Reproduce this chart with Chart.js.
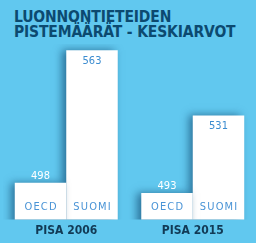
<!DOCTYPE html>
<html>
<head>
<meta charset="utf-8">
<script src="https://cdn.jsdelivr.net/npm/chart.js@4"></script>
<style>
html,body{margin:0;padding:0;background:#61c8ef;}
#wrap{position:relative;width:256px;height:243px;overflow:hidden;}
#otsikko{position:absolute;left:14px;top:10px;font-family:'DejaVu Sans Condensed','Liberation Sans Narrow',sans-serif;font-weight:bold;font-size:15.5px;line-height:14.5px;color:#0c4a70;letter-spacing:-0.15px;white-space:nowrap;}
canvas{position:absolute;left:0;top:0;}
</style>
</head>
<body>
<div id="wrap">
<div id="otsikko">LUONNONTIETEIDEN<br>PISTEMÄÄRÄT - KESKIARVOT</div>
<canvas id="kaavio" width="256" height="243"></canvas>
</div>
<script>
// data
const vuodet=['PISA 2006','PISA 2015'];
const oecd=[498,493];
const suomi=[563,531];
const sarjat=['OECD','SUOMI'];

const fontti="'DejaVu Sans Condensed','Liberation Sans Narrow',sans-serif";

// varjo pylväiden vasemmalle puolelle
const varjo={
  id:'varjo',
  beforeDatasetDraw(chart){ const c=chart.ctx; c.save(); c.shadowColor='rgba(10,60,100,0.6)'; c.shadowBlur=8; c.shadowOffsetX=-4; c.shadowOffsetY=0; },
  afterDatasetDraw(chart){ chart.ctx.restore(); }
};

// arvot ja sarjojen nimet pylväisiin
const tekstit={
  id:'tekstit',
  afterDatasetsDraw(chart){
    const c=chart.ctx; c.save();
    c.textAlign='center'; c.textBaseline='middle';
    chart.data.datasets.forEach((ds,i)=>{
      chart.getDatasetMeta(i).data.forEach((bar,j)=>{
        const arvo=ds.data[j];
        c.letterSpacing='0px';
        c.font='11px '+fontti;
        if(i===0){ c.fillStyle='#ffffff'; c.fillText(arvo,bar.x,bar.y-7); }
        else { c.fillStyle='#3b8cd0'; c.fillText(arvo,bar.x,bar.y+11); }
        c.letterSpacing='1.2px';
        c.font='11px '+fontti;
        c.fillStyle='#4a94d6';
        c.fillText(sarjat[i],bar.x+0.6,chart.chartArea.bottom-12);
      });
    });
    c.restore();
  }
};

new Chart(document.getElementById('kaavio'),{
  type:'bar',
  data:{
    labels:vuodet,
    datasets:[
      {label:'OECD',data:oecd,backgroundColor:'#ffffff',borderWidth:0},
      {label:'SUOMI',data:suomi,backgroundColor:'#ffffff',borderWidth:0}
    ]
  },
  options:{
    responsive:false,
    animation:false,
    layout:{padding:{left:3,right:0,top:44,bottom:1}},
    datasets:{bar:{categoryPercentage:0.814,barPercentage:1}},
    scales:{
      y:{display:false,min:480,max:566},
      x:{grid:{display:false,drawTicks:false},border:{display:false},
         ticks:{color:'#123a55',padding:4,font:{family:fontti,size:12,weight:'bold'}}}
    },
    plugins:{legend:{display:false},tooltip:{enabled:false}}
  },
  plugins:[varjo,tekstit]
});
</script>
</body>
</html>
